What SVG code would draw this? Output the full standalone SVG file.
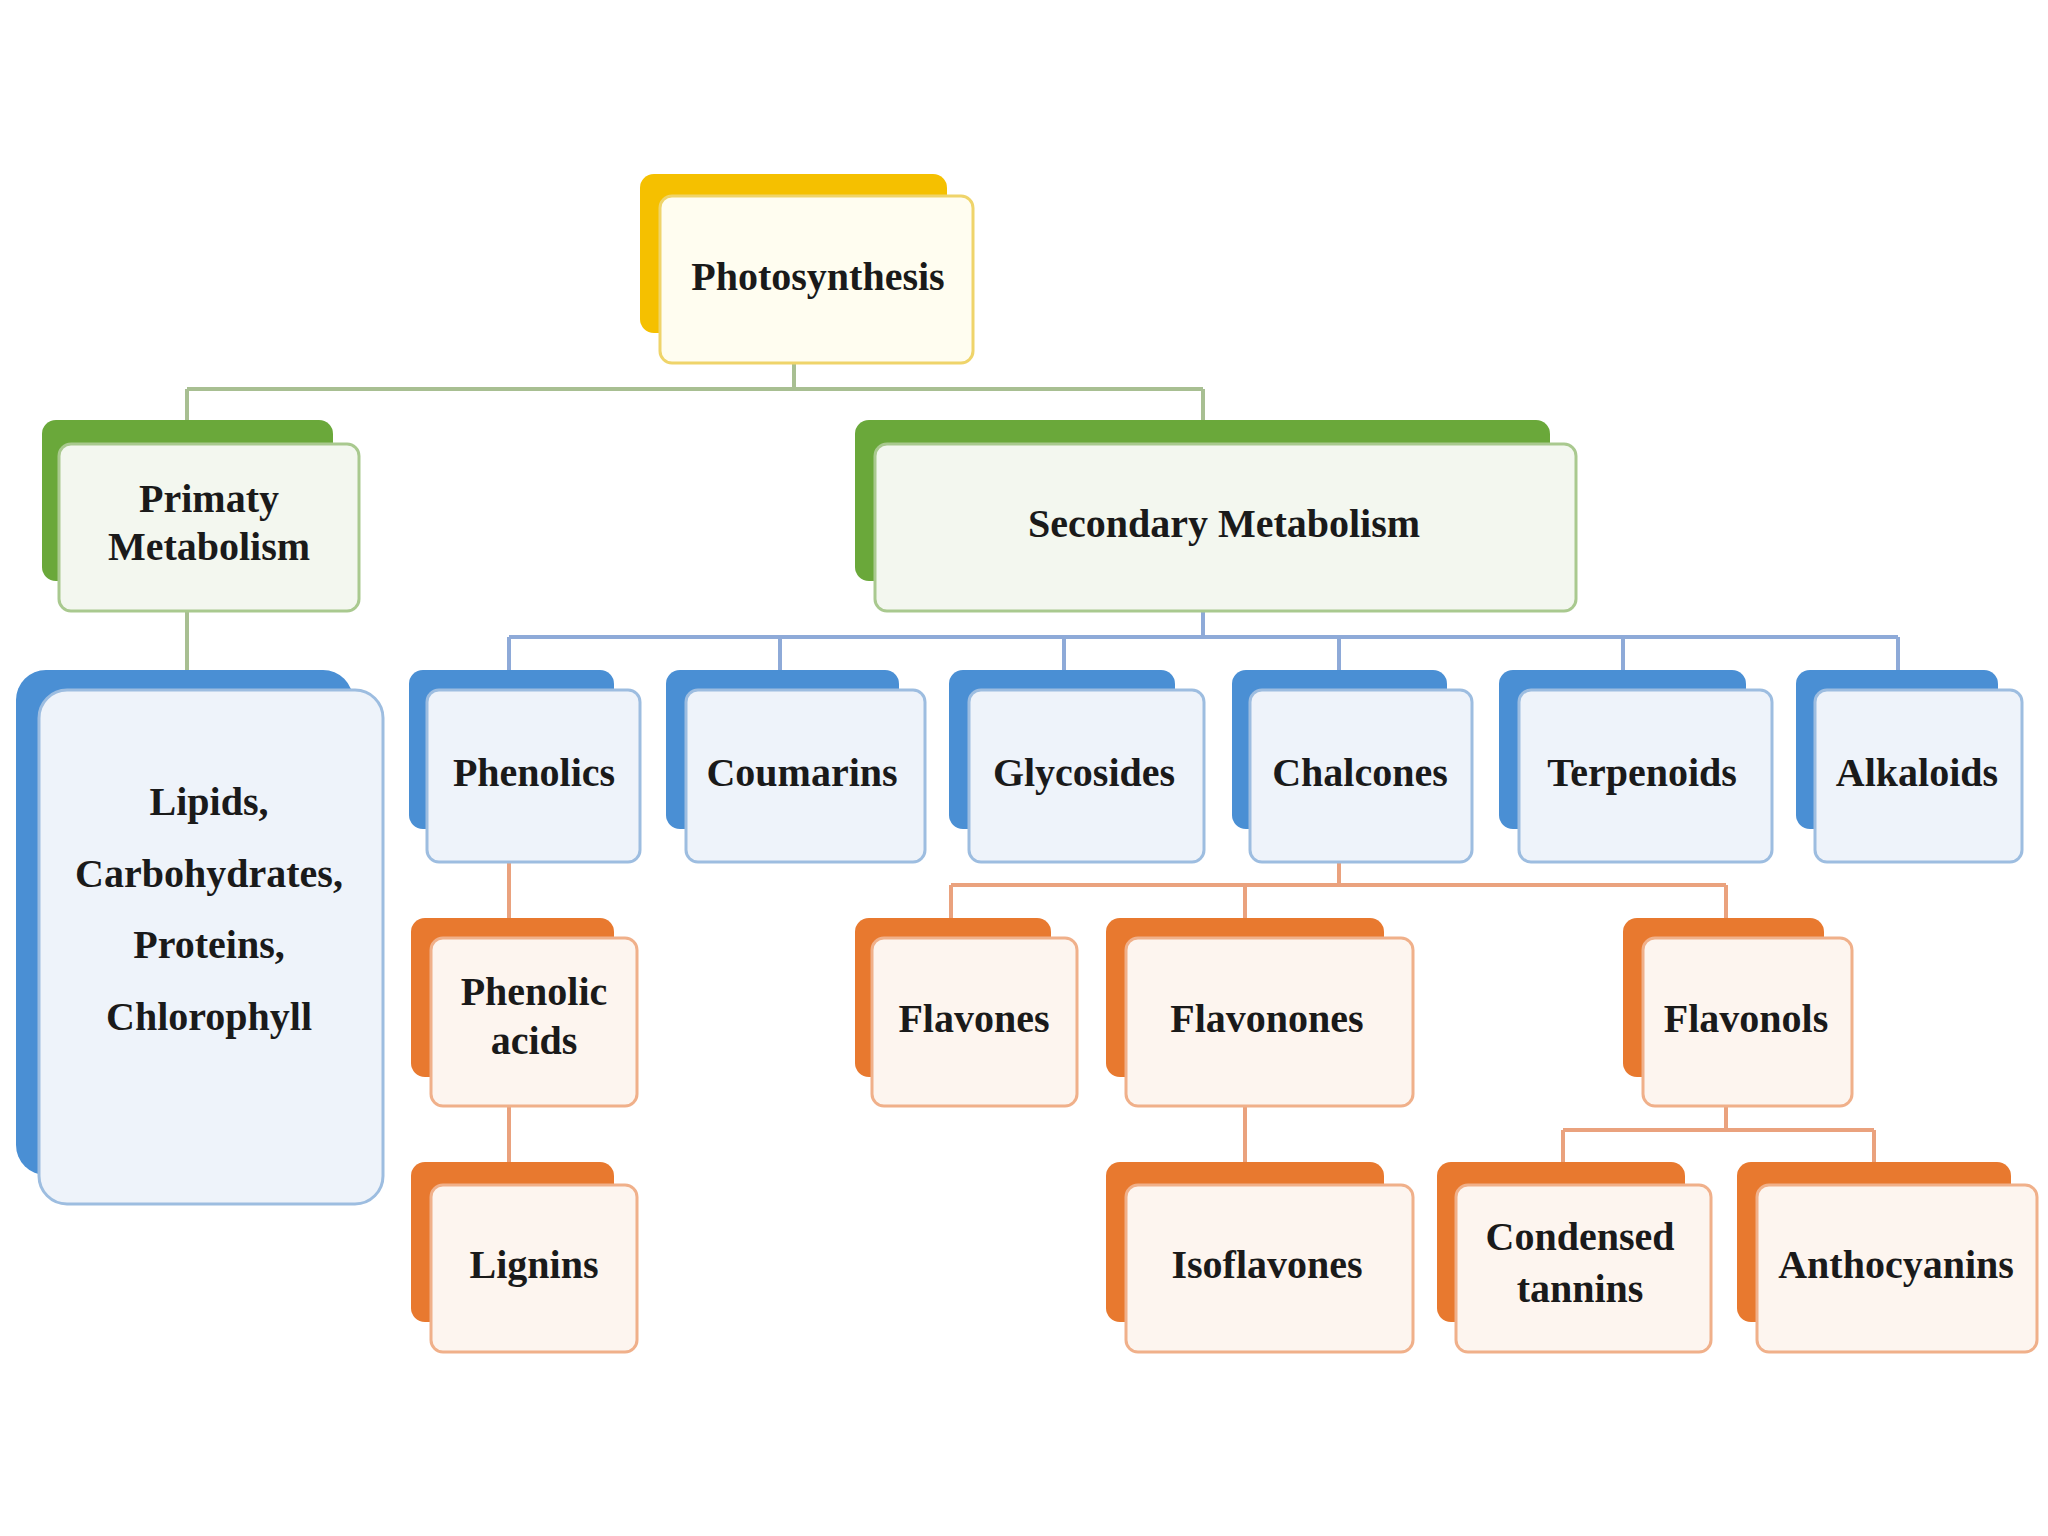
<svg xmlns="http://www.w3.org/2000/svg" width="2048" height="1536" viewBox="0 0 2048 1536">
<style>
text{font-family:"Liberation Serif",serif;font-weight:bold;font-size:40px;fill:#1a1a1a;text-anchor:middle;dominant-baseline:middle}
.yb{fill:#f5c000}.yf{fill:#fffdf0;stroke:#efd46a;stroke-width:3}
.gb{fill:#6aa83a}.gf{fill:#f3f7ef;stroke:#a9c98f;stroke-width:3}
.bb{fill:#4a8fd4}.bf{fill:#eef3fa;stroke:#9dbde0;stroke-width:3}
.ob{fill:#e8792f}.of{fill:#fdf5ef;stroke:#f0b08a;stroke-width:3}
.cg{stroke:#a8bf92;stroke-width:4;fill:none}
.cb{stroke:#8eaad8;stroke-width:4;fill:none}
.co{stroke:#eaa27e;stroke-width:4;fill:none}
</style>
<rect width="2048" height="1536" fill="#fff"/>
<g id="connectors">
<path class="cg" d="M794 363V389M187 389H1203M187 389V420M1203 389V420M187 611V670"/>
<path class="cb" d="M1203 611V637M509 637H1898M509 637V670M780 637V670M1064 637V670M1339 637V670M1623 637V670M1898 637V670"/>
<path class="co" d="M509 862V918M509 1106V1162M1339 862V885M951 885H1726M951 885V918M1245 885V918M1726 885V918M1245 1106V1162M1726 1106V1130M1563 1130H1874M1563 1130V1162M1874 1130V1162"/>
</g>
<g id="photosynthesis"><rect class="yb" x="640" y="174" width="307" height="159" rx="14"/><rect class="yf" x="660" y="196" width="313" height="167" rx="12"/><text x="818" y="281">Photosynthesis</text></g>
<g id="primary"><rect class="gb" x="42" y="420" width="291" height="161" rx="14"/><rect class="gf" x="59" y="444" width="300" height="167" rx="12"/><text x="209" y="503">Primaty</text><text x="209" y="551">Metabolism</text></g>
<g id="secondary"><rect class="gb" x="855" y="420" width="695" height="161" rx="14"/><rect class="gf" x="875" y="444" width="701" height="167" rx="12"/><text x="1224" y="528">Secondary Metabolism</text></g>
<g id="lipids"><rect class="bb" x="16" y="670" width="337" height="505" rx="30"/><rect class="bf" x="39" y="690" width="344" height="514" rx="28"/><text x="209" y="806">Lipids,</text><text x="209" y="878">Carbohydrates,</text><text x="209" y="949">Proteins,</text><text x="209" y="1021">Chlorophyll</text></g>
<g id="phenolics"><rect class="bb" x="409" y="670" width="205" height="159" rx="14"/><rect class="bf" x="427" y="690" width="213" height="172" rx="12"/><text x="534" y="777">Phenolics</text></g>
<g id="coumarins"><rect class="bb" x="666" y="670" width="233" height="159" rx="14"/><rect class="bf" x="686" y="690" width="239" height="172" rx="12"/><text x="802" y="777">Coumarins</text></g>
<g id="glycosides"><rect class="bb" x="949" y="670" width="226" height="159" rx="14"/><rect class="bf" x="969" y="690" width="235" height="172" rx="12"/><text x="1084" y="777">Glycosides</text></g>
<g id="chalcones"><rect class="bb" x="1232" y="670" width="215" height="159" rx="14"/><rect class="bf" x="1250" y="690" width="222" height="172" rx="12"/><text x="1360" y="777">Chalcones</text></g>
<g id="terpenoids"><rect class="bb" x="1499" y="670" width="247" height="159" rx="14"/><rect class="bf" x="1519" y="690" width="253" height="172" rx="12"/><text x="1642" y="777">Terpenoids</text></g>
<g id="alkaloids"><rect class="bb" x="1796" y="670" width="202" height="159" rx="14"/><rect class="bf" x="1815" y="690" width="207" height="172" rx="12"/><text x="1917" y="777">Alkaloids</text></g>
<g id="phenolic-acids"><rect class="ob" x="411" y="918" width="203" height="159" rx="14"/><rect class="of" x="431" y="938" width="206" height="168" rx="12"/><text x="534" y="996">Phenolic</text><text x="534" y="1045">acids</text></g>
<g id="lignins"><rect class="ob" x="411" y="1162" width="203" height="160" rx="14"/><rect class="of" x="431" y="1185" width="206" height="167" rx="12"/><text x="534" y="1269">Lignins</text></g>
<g id="flavones"><rect class="ob" x="855" y="918" width="196" height="159" rx="14"/><rect class="of" x="872" y="938" width="205" height="168" rx="12"/><text x="974" y="1023">Flavones</text></g>
<g id="flavonones"><rect class="ob" x="1106" y="918" width="278" height="159" rx="14"/><rect class="of" x="1126" y="938" width="287" height="168" rx="12"/><text x="1267" y="1023">Flavonones</text></g>
<g id="flavonols"><rect class="ob" x="1623" y="918" width="201" height="159" rx="14"/><rect class="of" x="1643" y="938" width="209" height="168" rx="12"/><text x="1746" y="1023">Flavonols</text></g>
<g id="isoflavones"><rect class="ob" x="1106" y="1162" width="278" height="160" rx="14"/><rect class="of" x="1126" y="1185" width="287" height="167" rx="12"/><text x="1267" y="1269">Isoflavones</text></g>
<g id="condensed-tannins"><rect class="ob" x="1437" y="1162" width="248" height="160" rx="14"/><rect class="of" x="1456" y="1185" width="255" height="167" rx="12"/><text x="1580" y="1241">Condensed</text><text x="1580" y="1293">tannins</text></g>
<g id="anthocyanins"><rect class="ob" x="1737" y="1162" width="274" height="160" rx="14"/><rect class="of" x="1757" y="1185" width="280" height="167" rx="12"/><text x="1896" y="1269">Anthocyanins</text></g>
</svg>
